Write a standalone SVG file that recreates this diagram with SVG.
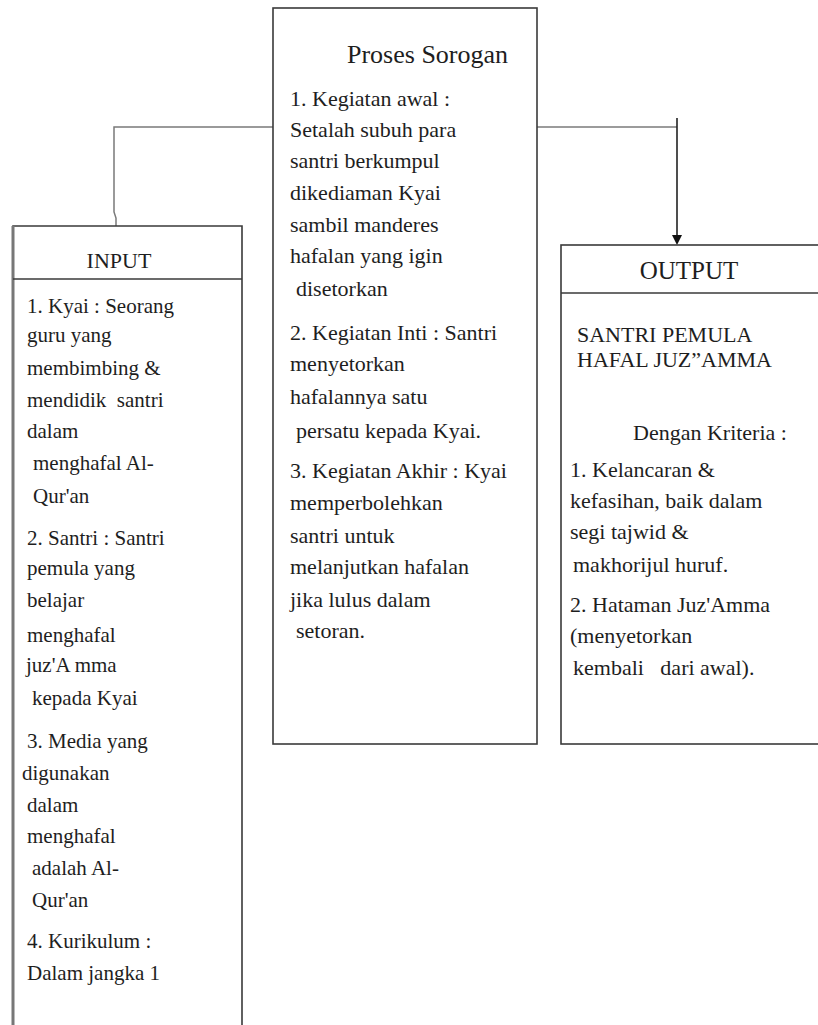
<svg xmlns="http://www.w3.org/2000/svg" width="818" height="1025" viewBox="0 0 818 1025" font-family="'Liberation Serif', 'Times New Roman', serif">
<defs>
<style>
.box{fill:#fff;stroke:#3a3a3a;stroke-width:1.6}
.conn{fill:none;stroke:#7a7a7a;stroke-width:1.5}
.arr{fill:none;stroke:#222;stroke-width:1.6}
.txt{fill:#1e1e1e}
.t-in{font-size:21px}
.t-mid{font-size:22px}
.t-out{font-size:22px}
.hdr{font-size:22px}
</style>
</defs>
<rect width="818" height="1025" fill="#fff"/>

<g id="connectors">
<path class="conn" d="M273,127 H114 V212 L116,218 V226"/>
<path class="conn" d="M537,127 H677"/>
<path class="arr" d="M677,118 V236"/>
<path d="M672,235 L682,235 L677,245 Z" fill="#111"/>
</g>

<g id="proses-sorogan" class="txt">
<rect class="box" x="273" y="8" width="264" height="736"/>
<text x="347" y="63" font-size="26">Proses Sorogan</text>
<g class="t-mid">
<text x="290" y="106">1. Kegiatan awal :</text>
<text x="290" y="137">Setalah subuh para</text>
<text x="290" y="168">santri berkumpul</text>
<text x="290" y="200">dikediaman Kyai</text>
<text x="290" y="232">sambil manderes</text>
<text x="290" y="263">hafalan yang igin</text>
<text x="296" y="296">disetorkan</text>
<text x="290" y="340">2. Kegiatan Inti : Santri</text>
<text x="290" y="371">menyetorkan</text>
<text x="290" y="404">hafalannya satu</text>
<text x="296" y="438">persatu kepada Kyai.</text>
<text x="290" y="478">3. Kegiatan Akhir : Kyai</text>
<text x="290" y="510">memperbolehkan</text>
<text x="290" y="543">santri untuk</text>
<text x="290" y="574">melanjutkan hafalan</text>
<text x="290" y="607">jika lulus dalam</text>
<text x="296" y="638">setoran.</text>
</g>
</g>

<g id="input" class="txt">
<path d="M13,1025 V226 H242 V1025" fill="#fff" stroke="#3a3a3a" stroke-width="1.6"/>
<path d="M13,1025 V226" stroke="#777" stroke-width="3" fill="none"/>
<path d="M13,279 H242" stroke="#3a3a3a" stroke-width="1.6"/>
<text class="hdr" x="119" y="268" text-anchor="middle">INPUT</text>
<g class="t-in">
<text x="27" y="313">1. Kyai : Seorang</text>
<text x="27" y="342">guru yang</text>
<text x="27" y="375">membimbing &amp;</text>
<text x="27" y="407" xml:space="preserve">mendidik  santri</text>
<text x="27" y="438">dalam</text>
<text x="33" y="470">menghafal Al-</text>
<text x="33" y="503">Qur'an</text>
<text x="27" y="545">2. Santri : Santri</text>
<text x="27" y="575">pemula yang</text>
<text x="27" y="607">belajar</text>
<text x="27" y="642">menghafal</text>
<text x="26" y="672">juz'A mma</text>
<text x="32" y="705">kepada Kyai</text>
<text x="27" y="748">3. Media yang</text>
<text x="22" y="780">digunakan</text>
<text x="27" y="812">dalam</text>
<text x="27" y="843">menghafal</text>
<text x="32" y="875">adalah Al-</text>
<text x="32" y="907">Qur'an</text>
<text x="27" y="948">4. Kurikulum :</text>
<text x="27" y="980">Dalam jangka 1</text>
</g>
</g>

<g id="output" class="txt">
<rect class="box" x="561" y="245" width="270" height="499"/>
<path d="M561,293 H818" stroke="#3a3a3a" stroke-width="1.6"/>
<text x="689" y="279" text-anchor="middle" font-size="25">OUTPUT</text>
<g class="t-out">
<text x="577" y="342">SANTRI PEMULA</text>
<text x="577" y="367">HAFAL JUZ”AMMA</text>
<text x="633" y="440">Dengan Kriteria :</text>
<text x="570" y="477">1. Kelancaran &amp;</text>
<text x="570" y="508">kefasihan, baik dalam</text>
<text x="570" y="539">segi tajwid &amp;</text>
<text x="573" y="572">makhorijul huruf.</text>
<text x="570" y="612">2. Hataman Juz'Amma</text>
<text x="570" y="643">(menyetorkan</text>
<text x="573" y="675" xml:space="preserve">kembali   dari awal).</text>
</g>
</g>
</svg>
